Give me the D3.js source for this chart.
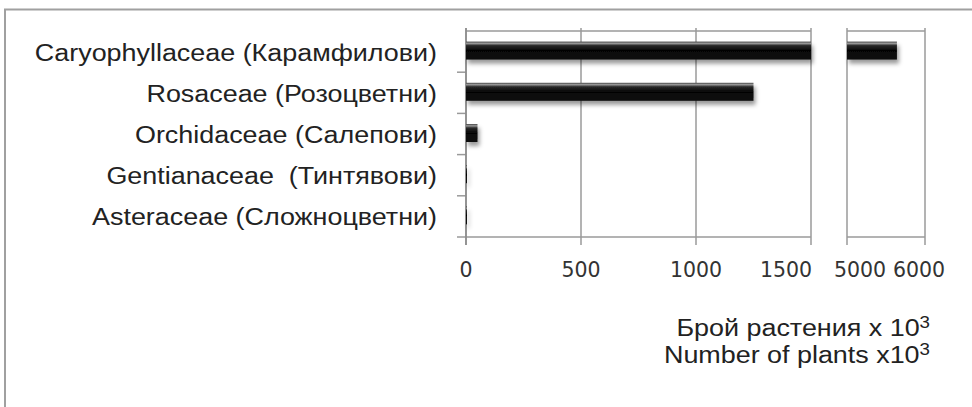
<!DOCTYPE html>
<html>
<head>
<meta charset="utf-8">
<script src="https://cdn.jsdelivr.net/npm/d3@7"></script>
<style>
  html, body { margin: 0; padding: 0; background: #fff; }
  svg { display: block; }
</style>
</head>
<body>
<svg id="chart" width="972" height="407"></svg>
<script>
// Plant families and number of plants (thousands)
const categories = [
  "Caryophyllaceae (Карамфилови)",
  "Rosaceae (Розоцветни)",
  "Orchidaceae (Салепови)",
  "Gentianaceae  (Тинтявови)",
  "Asteraceae (Сложноцветни)"
];
const values = [5640, 1250, 50, 4, 3];
const ticksLow = [0, 500, 1000, 1500];
const ticksHigh = [5000, 6000];
const titleLines = ["Брой растения x 10", "Number of plants x10"];

const svg = d3.select("#chart");
const labelFont = "'Liberation Sans', Arial, sans-serif";
const stretch = 1.17;

// outer frame
svg.append("path")
  .attr("d", "M5,407 V9.5 H972")
  .attr("fill", "none").attr("stroke", "#a0a0a0").attr("stroke-width", 2);

const plotTop = 31, plotBottom = 237;
const y = d3.scaleBand().domain(categories).range([plotTop, plotBottom]).paddingInner(0.56).paddingOuter(0.28);
const xLow = d3.scaleLinear().domain([0, 1500]).range([466, 811]);
const xHigh = d3.scaleLinear().domain([5000, 6000]).range([847, 925]);

// tick labels near the axis break are nudged apart so they don't collide
const labelNudge = { 1500: -25, 5000: 13, 6000: -6 };

const defs = svg.append("defs");
const grad = defs.append("linearGradient").attr("id", "barGrad")
  .attr("x1", 0).attr("y1", 0).attr("x2", 0).attr("y2", 1);
[[0, "#444"], [0.1, "#9a9a9a"], [0.22, "#2a2a2a"], [0.5, "#050505"], [1, "#111"]]
  .forEach(([o, c]) => grad.append("stop").attr("offset", o).attr("stop-color", c));
const shadow = defs.append("filter").attr("id", "shadow")
  .attr("x", "-10%").attr("y", "-30%").attr("width", "130%").attr("height", "190%");
shadow.append("feDropShadow").attr("dx", 2).attr("dy", 4).attr("stdDeviation", 2.2)
  .attr("flood-color", "#000").attr("flood-opacity", 0.4);

const gridColor = "#9a9a9a";

// panel outlines and gridlines
[[xLow, ticksLow], [xHigh, ticksHigh]].forEach(([sc, tks]) => {
  const [r0, r1] = sc.range();
  svg.append("line").attr("x1", r0).attr("x2", r1).attr("y1", plotTop).attr("y2", plotTop)
    .attr("stroke", gridColor).attr("stroke-width", 1.5);
  svg.append("line").attr("x1", r0).attr("x2", r1).attr("y1", plotBottom).attr("y2", plotBottom)
    .attr("stroke", gridColor).attr("stroke-width", 1.5);
  svg.append("g").selectAll("line").data(tks).join("line")
    .attr("x1", d => sc(d)).attr("x2", d => sc(d))
    .attr("y1", plotTop - 3).attr("y2", plotBottom + 8)
    .attr("stroke", gridColor).attr("stroke-width", 1.5);
  svg.append("g").selectAll("text").data(tks).join("text")
    .attr("x", d => sc(d) + (labelNudge[d] || 0)).attr("y", 277)
    .attr("text-anchor", "middle")
    .attr("font-family", "'DejaVu Sans', Verdana, sans-serif")
    .attr("font-size", 20.5).attr("fill", "#333")
    .text(d => d);
});

// left category axis ticks
const bounds = categories.map(c => y(c) - y.step() * y.paddingInner() / 2).slice(1).concat([plotBottom]);
svg.append("g").selectAll("line").data(bounds).join("line")
  .attr("x1", 457).attr("x2", 466).attr("y1", d => d).attr("y2", d => d)
  .attr("stroke", gridColor).attr("stroke-width", 1.5);
svg.append("line").attr("x1", 466).attr("x2", 466).attr("y1", plotTop - 3).attr("y2", plotBottom + 8)
  .attr("stroke", "#8a8a8a").attr("stroke-width", 1.5);

// bars
const bars = svg.append("g").attr("filter", "url(#shadow)");
const bh = 18;
categories.forEach((c, i) => {
  const v = values[i];
  const cy = y(c) + y.bandwidth() / 2 - 1;
  bars.append("rect")
    .attr("x", xLow(0)).attr("y", cy - bh / 2)
    .attr("width", Math.max(1, xLow(Math.min(v, 1500)) - xLow(0)))
    .attr("height", bh).attr("fill", "url(#barGrad)");
  if (v > 1500) {
    bars.append("rect")
      .attr("x", xHigh(5000)).attr("y", cy - bh / 2)
      .attr("width", xHigh(v) - xHigh(5000))
      .attr("height", bh).attr("fill", "url(#barGrad)");
  }
});

// category labels
categories.forEach(c => {
  svg.append("text")
    .attr("transform", `translate(437,${y(c) + y.bandwidth() / 2 + 9}) scale(${stretch},1)`)
    .attr("text-anchor", "end")
    .attr("font-family", labelFont).attr("font-size", 23).attr("fill", "#222")
    .attr("xml:space", "preserve")
    .text(c);
});

// axis title
titleLines.forEach((t, i) => {
  const tx = svg.append("text")
    .attr("transform", `translate(930,${336 + i * 27}) scale(${stretch},1)`)
    .attr("text-anchor", "end")
    .attr("xml:space", "preserve")
    .attr("font-family", labelFont).attr("font-size", 23).attr("fill", "#222");
  tx.append("tspan").text(t);
  tx.append("tspan").attr("dy", -8).attr("font-size", 16).text("3");
});
</script>
</body>
</html>
